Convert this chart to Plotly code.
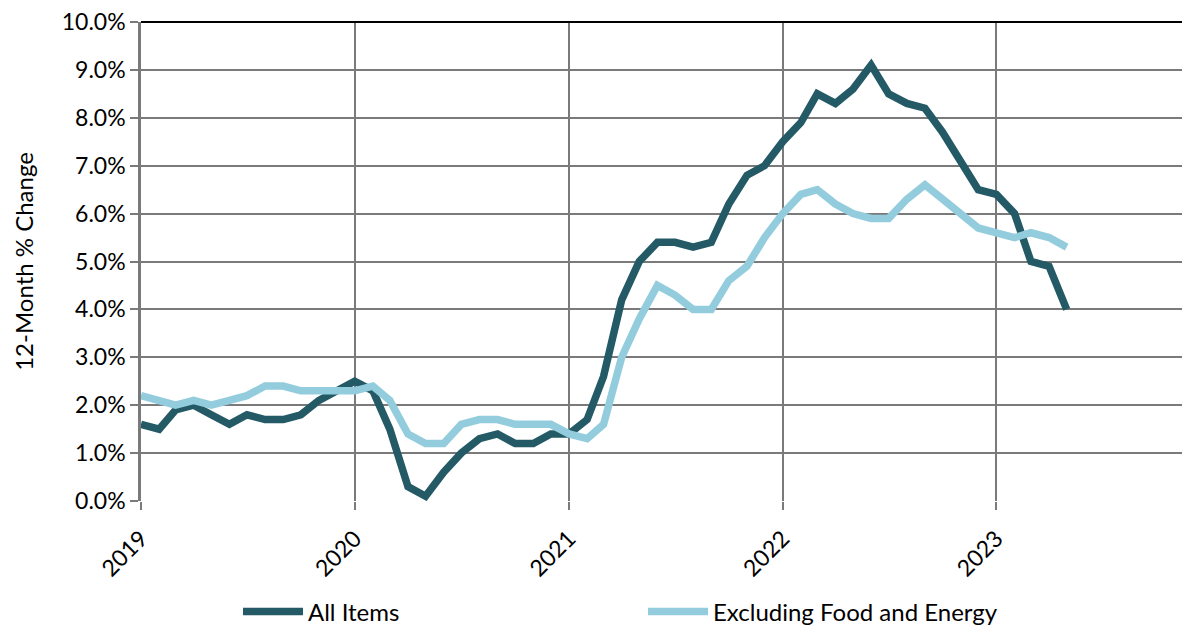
import plotly.graph_objects as go
import pandas as pd

dates = pd.date_range("2019-01-01", "2023-05-01", freq="MS")

all_items = [
    1.6, 1.5, 1.9, 2.0, 1.8, 1.6, 1.8, 1.7, 1.7, 1.8, 2.1, 2.3,
    2.5, 2.3, 1.5, 0.3, 0.1, 0.6, 1.0, 1.3, 1.4, 1.2, 1.2, 1.4,
    1.4, 1.7, 2.6, 4.2, 5.0, 5.4, 5.4, 5.3, 5.4, 6.2, 6.8, 7.0,
    7.5, 7.9, 8.5, 8.3, 8.6, 9.1, 8.5, 8.3, 8.2, 7.7, 7.1, 6.5,
    6.4, 6.0, 5.0, 4.9, 4.0,
]
core = [
    2.2, 2.1, 2.0, 2.1, 2.0, 2.1, 2.2, 2.4, 2.4, 2.3, 2.3, 2.3,
    2.3, 2.4, 2.1, 1.4, 1.2, 1.2, 1.6, 1.7, 1.7, 1.6, 1.6, 1.6,
    1.4, 1.3, 1.6, 3.0, 3.8, 4.5, 4.3, 4.0, 4.0, 4.6, 4.9, 5.5,
    6.0, 6.4, 6.5, 6.2, 6.0, 5.9, 5.9, 6.3, 6.6, 6.3, 6.0, 5.7,
    5.6, 5.5, 5.6, 5.5, 5.3,
]
year_ticks = ["2019-01-01", "2020-01-01", "2021-01-01", "2022-01-01", "2023-01-01"]
year_labels = ["2019", "2020", "2021", "2022", "2023"]
y_ticks = [i / 100 for i in range(0, 11)]

FONT = "Lato, 'Open Sans', sans-serif"

fig = go.Figure()
fig.add_trace(go.Scatter(
    x=dates, y=[v / 100 for v in all_items], name="All Items", mode="lines",
    line=dict(color="#235A66", width=7.5),
))
fig.add_trace(go.Scatter(
    x=dates, y=[v / 100 for v in core], name="Excluding Food and Energy", mode="lines",
    line=dict(color="#93CDDD", width=7.5),
))

L, T, B, W, H = 141, 22, 125, 1182, 626
pw = W - L
fig.update_layout(
    width=W, height=H,
    margin=dict(l=L, r=0, t=T, b=B, autoexpand=False),
    paper_bgcolor="white", plot_bgcolor="white",
    font=dict(family=FONT, color="black", size=23),
    showlegend=True,
    legend=dict(
        orientation="h", x=(238 - L) / pw, xanchor="left",
        y=(501 - 612) / (H - T - B), yanchor="middle",
        entrywidth=330, entrywidthmode="pixels",
        font=dict(size=24, family=FONT), bgcolor="rgba(0,0,0,0)",
        itemwidth=60,
    ),
    xaxis=dict(
        type="date", range=["2019-01-01", "2023-11-14"],
        tickvals=year_ticks, ticktext=year_labels, tickangle=-45,
        showgrid=True, gridcolor="#7a7a7a", gridwidth=1.5,
        ticks="outside", ticklen=8, tickcolor="#7a7a7a", tickwidth=1.5,
        showline=False, zeroline=False, automargin=False,
        ticklabelstandoff=6,
        tickfont=dict(size=23, family=FONT),
    ),
    yaxis=dict(
        range=[0, 0.1], tickvals=y_ticks, tickformat=".1%",
        showgrid=True, gridcolor="#7a7a7a", gridwidth=1.5,
        ticks="outside", ticklen=8, tickcolor="#7a7a7a", tickwidth=1.5,
        showline=True, linecolor="#7a7a7a", linewidth=2.5,
        zeroline=False, automargin=False,
        tickfont=dict(size=23, family=FONT),
        title=dict(text="12-Month % Change", font=dict(size=24, family=FONT), standoff=22),
    ),
)
fig.add_shape(type="line", xref="paper", yref="paper", x0=0, x1=1, y0=1, y1=1,
              line=dict(color="black", width=2), layer="above")

fig.write_html("out.html")
